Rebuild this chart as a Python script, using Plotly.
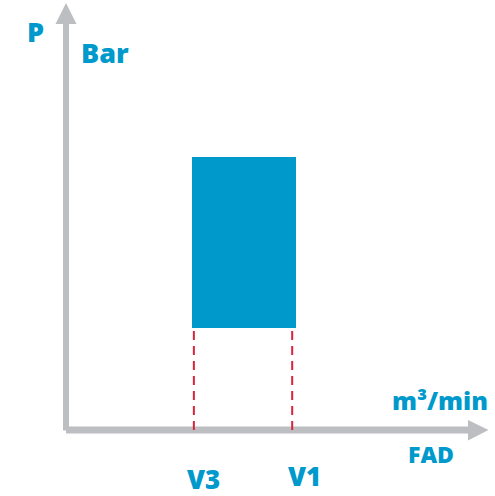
import plotly.graph_objects as go

# --- data ---
fad_labels = ["V3", "V1"]          # FAD tick labels
fad_values = [3.03, 5.36]           # FAD positions of V3 and V1
box_fad = [2.99, 5.45]              # operating box, FAD extent
box_pressure = [2.4, 6.4]           # operating box, pressure extent (low, high)
y_label = ["P", "Bar"]
x_label = ["m³/min", "FAD"]

W, H = 495, 496
L, R, T, B = 66, 7, 4, 65.5
PW, PH = W - L - R, H - T - B

def px(p):
    return (p - L) / PW

def py(p):
    return (H - B - p) / PH

BLUE = "#0099CC"
GRAY = "#BDBEC2"
RED = "#D9243C"
FONT = "Open Sans"
WEIGHT = 800

fig = go.Figure()

# operating box
fig.add_trace(go.Bar(
    x=[(box_fad[0] + box_fad[1]) / 2],
    y=[box_pressure[1] - box_pressure[0]],
    base=[box_pressure[0]],
    width=[box_fad[1] - box_fad[0]],
    marker=dict(color=BLUE, line=dict(width=0)),
    showlegend=False, hoverinfo="skip",
))

# dashed guide lines
for v in fad_values:
    fig.add_trace(go.Scatter(
        x=[v, v], y=[0, box_pressure[0]], mode="lines",
        line=dict(color=RED, width=2, dash="9px,6px"),
        showlegend=False, hoverinfo="skip",
    ))

shapes = [
    # y axis shaft and head
    dict(type="rect", xref="paper", yref="paper", x0=px(63), x1=px(69), y0=py(431), y1=py(23),
         fillcolor=GRAY, line=dict(width=0), layer="below"),
    dict(type="path", xref="paper", yref="paper",
         path=f"M {px(55.5)} {py(24)} L {px(76.5)} {py(24)} L {px(66)} {py(3)} Z",
         fillcolor=GRAY, line=dict(width=0)),
    # x axis shaft and head
    dict(type="rect", xref="paper", yref="paper", x0=px(66), x1=px(469), y0=py(434), y1=py(427),
         fillcolor=GRAY, line=dict(width=0), layer="below"),
    dict(type="path", xref="paper", yref="paper",
         path=f"M {px(468)} {py(420.5)} L {px(468)} {py(441)} L {px(488.5)} {py(430.5)} Z",
         fillcolor=GRAY, line=dict(width=0)),
]

ann = []
def text(t, cx, cy, size):
    ann.append(dict(text=t, x=px(cx), y=py(cy), xref="paper", yref="paper",
                    showarrow=False, xanchor="center", yanchor="middle",
                    font=dict(family=FONT, size=size, color=BLUE, weight=WEIGHT)))

text(y_label[0], 35, 32, 27)
text(y_label[1], 105, 53, 27)
text(x_label[0], 440, 400, 25)
text(x_label[1], 431, 455, 23)

# FAD tick labels (anchored at the bottom so the text box stays inside the page)
shifts = [10, 12]
yshifts = [-4, -1]
for lab, v, s, ys in zip(fad_labels, fad_values, shifts, yshifts):
    ann.append(dict(text=lab, x=v, xref="x", y=py(495), yref="paper", xshift=s, yshift=ys,
                    showarrow=False, xanchor="center", yanchor="bottom", borderpad=0,
                    font=dict(family=FONT, size=26, color=BLUE, weight=WEIGHT)))

fig.update_layout(
    width=W, height=H,
    margin=dict(l=L, r=R, t=T, b=B, pad=0),
    paper_bgcolor="white", plot_bgcolor="white",
    xaxis=dict(range=[0, 10], visible=False, fixedrange=True),
    yaxis=dict(range=[0, 10], visible=False, fixedrange=True),
    shapes=shapes, annotations=ann, bargap=0,
)

fig.write_html("out.html", config={"displayModeBar": False},
               post_script="document.body.style.margin='0';document.body.style.padding='0';document.body.style.overflow='hidden';")
